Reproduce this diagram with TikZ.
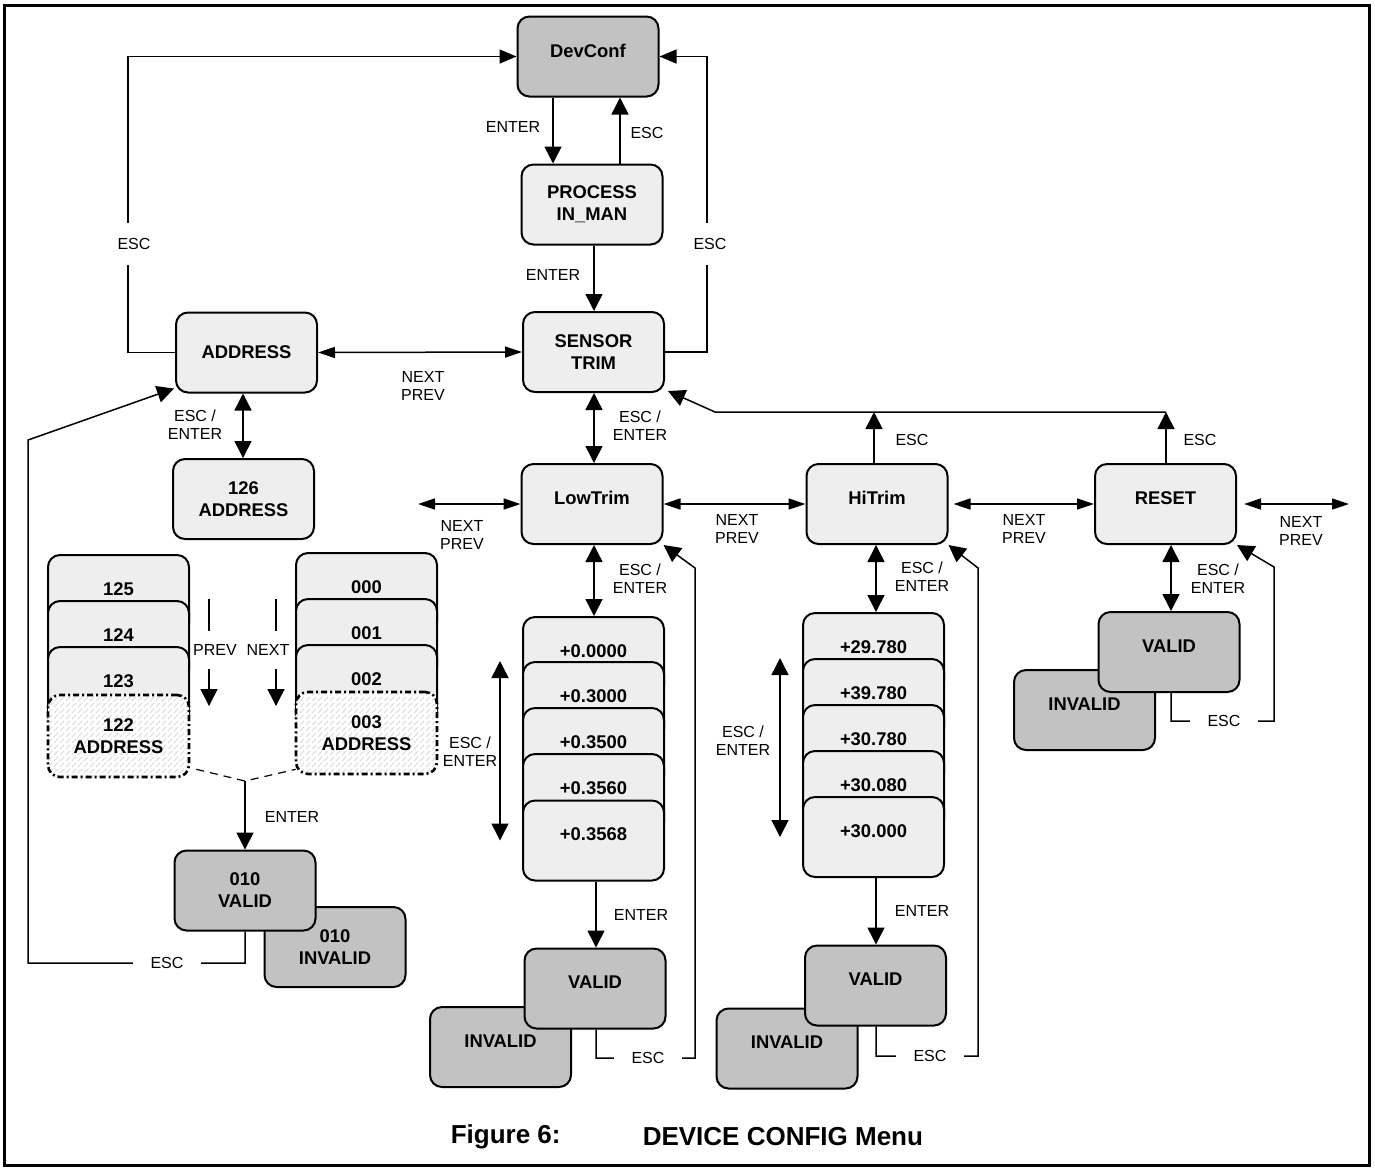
\documentclass[tikz,border=0pt]{standalone}
\usepackage{fontspec}
\setmainfont{Liberation Sans}
\usetikzlibrary{arrows.meta,patterns}
\definecolor{boxlight}{RGB}{238,238,238}
\definecolor{boxdark}{RGB}{194,194,194}
\newcommand{\boxfont}{\fontsize{9.2}{11}\selectfont\bfseries}
\newcommand{\lblfont}{\fontsize{8}{9}\selectfont}
\newcommand{\capfont}{\fontsize{13}{15}\selectfont\bfseries}

\tikzset{
  box/.style={draw, line width=1pt, rounded corners=6pt, fill=boxlight,
    minimum width=70.5pt, minimum height=40pt, align=center, font=\boxfont},
  dark/.style={box, fill=boxdark},
  high/.style={text depth=6pt},
  sel/.style={draw, line width=1.3pt, rounded corners=6pt,
    dash pattern=on 3pt off 1.5pt on 1pt off 1.5pt,
    preaction={fill=white}, pattern=north east lines, pattern color=gray!30,
    minimum width=70.5pt, minimum height=41pt, align=center, font=\boxfont},
  lbl/.style={font=\lblfont, align=center, inner sep=0pt},
  gapv/.style={lbl, fill=white, inner ysep=7.5pt, inner xsep=1pt},
  gaph/.style={lbl, fill=white, inner xsep=9pt, inner ysep=1pt},
  flat/.style={>={Triangle[length=8.5pt,width=5.5pt]}},
  mid/.style={>={Triangle[length=8.5pt,width=7pt]}},
}

\begin{document}
\begin{tikzpicture}[x=0.5pt, y=-0.5pt, line width=0.75pt,
    >={Triangle[length=8.5pt,width=8.5pt]}]
    \useasboundingbox (0,0) rectangle (1375,1169);
    \draw[line width=1.5pt] (4,5) rectangle (1369,1165);

    % Draw the menu boxes
    \node[dark, high] (dev) at (588,56.5) {DevConf};
    \node[box] (proc) at (592,204.5) {PROCESS\\IN\_MAN};
    \node[box] (sens) at (593.5,352) {SENSOR\\TRIM};
    \node[box] (addr) at (246.5,352.5) {ADDRESS};
    \node[box] (a126) at (243.5,499) {126\\ADDRESS};
    \node[box, high] (low) at (592,504) {LowTrim};
    \node[box, high] (hi) at (877,504) {HiTrim};
    \node[box, high] (rst) at (1165.5,504) {RESET};

    % Draw the value stacks
    \foreach \v/\y/\n in {125/595/l125, 124/641/l124, 123/687/l123}
        \node[box, high] (\n) at (118.5,\y) {\v};
    \node[sel] (l122) at (118.5,736) {122\\ADDRESS};
    \foreach \v/\y/\n in {000/593/r000, 001/639/r001, 002/685/r002}
        \node[box, high] (\n) at (366.5,\y) {\v};
    \node[sel] (r003) at (366.5,733) {003\\ADDRESS};
    \foreach \v/\y [count=\i] in {+0.0000/657, +0.3000/702, +0.3500/748,
                                  +0.3560/794, +0.3568/840.5}
        \node[box, high] (ls\i) at (593.5,\y) {\v};
    \foreach \v/\y [count=\i] in {+29.780/653, +39.780/699, +30.780/745,
                                  +30.080/791, +30.000/837}
        \node[box, high] (hs\i) at (873.5,\y) {\v};

    % Draw the valid / invalid pairs
    \node[dark] (i010) at (335,947) {010\\INVALID};
    \node[dark] (v010) at (245,890.5) {010\\VALID};
    \node[dark, high] (lowi) at (500.5,1047) {INVALID};
    \node[dark, high] (lowv) at (595,988.5) {VALID};
    \node[dark, high] (hii) at (787,1048.5) {INVALID};
    \node[dark, high] (hiv) at (875.5,985.5) {VALID};
    \node[dark, high] (rsti) at (1084.5,710) {INVALID};
    \node[dark, high] (rstv) at (1169,652) {VALID};

    % Free ends
    \coordinate (navL) at (418,504);
    \coordinate (navR) at (1349,504);
    \coordinate (bar) at (715,412);
    \coordinate (merge) at (245,781);
    \coordinate (pv1) at (209,599);
    \coordinate (pv2) at (209,706);
    \coordinate (nx1) at (276,599);
    \coordinate (nx2) at (276,706);

    % Draw enter / esc around DevConf
    \draw[->] (553,0 |- dev.south) -- (553,0 |- proc.north);
    \draw[->] (620,0 |- proc.north) -- (620,0 |- dev.south);
    \draw[->] (594,0 |- proc.south) -- (594,0 |- sens.north);
    \draw[mid, ->] (sens.east) -- (707,0 |- sens.east) -- (707,0 |- dev.east) -- (dev.east);
    \draw[mid, ->] (addr.west) -- (128,0 |- addr.west) -- (128,0 |- dev.west) -- (dev.west);

    % Draw next / prev
    \draw[flat, <->] (addr.east) -- (sens.west);
    \draw[flat, <->] (navL) -- (low.west);
    \draw[flat, <->] (low.east) -- (hi.west);
    \draw[flat, <->] ([xshift=2.5pt]hi.east) -- (rst.west);
    \draw[flat, <->] ([xshift=3.5pt]rst.east) -- (navR);

    % Draw esc / enter
    \draw[<->] (243,0 |- addr.south) -- (243,0 |- a126.north);
    \draw[<->] (594,0 |- sens.south) -- (594,0 |- low.north);
    \draw[<->] (594,0 |- low.south) -- (594,0 |- ls1.north);
    \draw[<->] (876,0 |- hi.south) -- (876,0 |- hs1.north);
    \draw[<->] (1171,0 |- rst.south) -- (1171,0 |- rstv.north);
    \draw[<->] (500,0 |- ls2.north) -- (500,0 |- ls5.center);
    \draw[<->] (780,0 |- hs2.north) -- (780,0 |- hs5.center);

    % Draw esc back to SENSOR TRIM
    \draw[->] (874,0 |- hi.north) -- (874,0 |- bar);
    \draw[->] (1166,0 |- rst.north) -- (1166,0 |- bar);
    \draw[->] (1166,0 |- bar) -- (bar) -- ([shift={(3,-2)}]sens.south east);

    % Draw address selection
    \draw[->] (pv1) -- (pv2);
    \draw[->] (nx1) -- (nx2);
    \draw[dashed, line width=0.6pt, dash pattern=on 4pt off 3pt]
          ([shift={(6,-9)}]l122.south east) -- (merge) -- ([shift={(1,-6)}]r003.south west);
    \draw[->] (merge) -- (v010.north);

    % Draw enter to valid
    \draw[->] (596,0 |- ls5.south) -- (596,0 |- lowv.north);
    \draw[->] (876,0 |- hs5.south) -- (876,0 |- hiv.north);

    % Draw esc loops
    \draw[->] (245,0 |- v010.south) -- (245,963) -- (28,963) -- (28,440)
          -- ([shift={(-1,-5)}]addr.south west);
    \draw[->] (596,0 |- lowv.south) -- (596,1058) -- (695,1058) -- (695,568)
          -- (low.south east);
    \draw[->] (876,0 |- hiv.south) -- (876,1056) -- (978,1056) -- (978,568)
          -- (hi.south east);
    \draw[->] (1171,0 |- rstv.south) -- (1171,721) -- (1274,721) -- (1274,567)
          -- (rst.south east);

    % Labels
    \node[lbl] (t1) at (513,127) {ENTER};
    \node[lbl] (t2) at (647,133) {ESC};
    \node[lbl] (t3) at (553,275) {ENTER};
    \node[gapv] (t4) at (134,244) {ESC};
    \node[gapv] (t5) at (710,244) {ESC};
    \node[lbl] (t6) at (423,386) {NEXT\\PREV};
    \node[lbl] (t7) at (195,425) {ESC /\\ENTER};
    \node[lbl] (t8) at (640,426) {ESC /\\ENTER};
    \node[lbl] (t9) at (912,440) {ESC};
    \node[lbl] (t10) at (1200,440) {ESC};
    \node[lbl] (t11) at (462,535) {NEXT\\PREV};
    \node[lbl] (t12) at (737,529) {NEXT\\PREV};
    \node[lbl] (t13) at (1024,529) {NEXT\\PREV};
    \node[lbl] (t14) at (1301,531) {NEXT\\PREV};
    \node[lbl] (t15) at (640,579) {ESC /\\ENTER};
    \node[lbl] (t16) at (922,577) {ESC /\\ENTER};
    \node[lbl] (t17) at (1218,579) {ESC /\\ENTER};
    \node[gapv, inner ysep=6.6pt, inner xsep=0.5pt] (t18) at (215,650) {PREV};
    \node[gapv, inner ysep=6.6pt, inner xsep=0.5pt] (t19) at (268,650) {NEXT};
    \node[lbl] (t20) at (470,752) {ESC /\\ENTER};
    \node[lbl] (t21) at (743,741) {ESC /\\ENTER};
    \node[lbl] (t22) at (292,817) {ENTER};
    \node[lbl] (t23) at (641,915) {ENTER};
    \node[lbl] (t24) at (922,911) {ENTER};
    \node[gaph] (t25) at (167,963) {ESC};
    \node[gaph] (t26) at (648,1058) {ESC};
    \node[gaph] (t27) at (930,1056) {ESC};
    \node[gaph] (t28) at (1224,721) {ESC};

    % Caption
    \node[font=\capfont, anchor=west, inner sep=0pt] (fig) at (450,1137) {Figure 6:};
    \node[font=\capfont, anchor=west, inner sep=0pt] (title) at (642,1137) {DEVICE CONFIG Menu};
\end{tikzpicture}
\end{document}
